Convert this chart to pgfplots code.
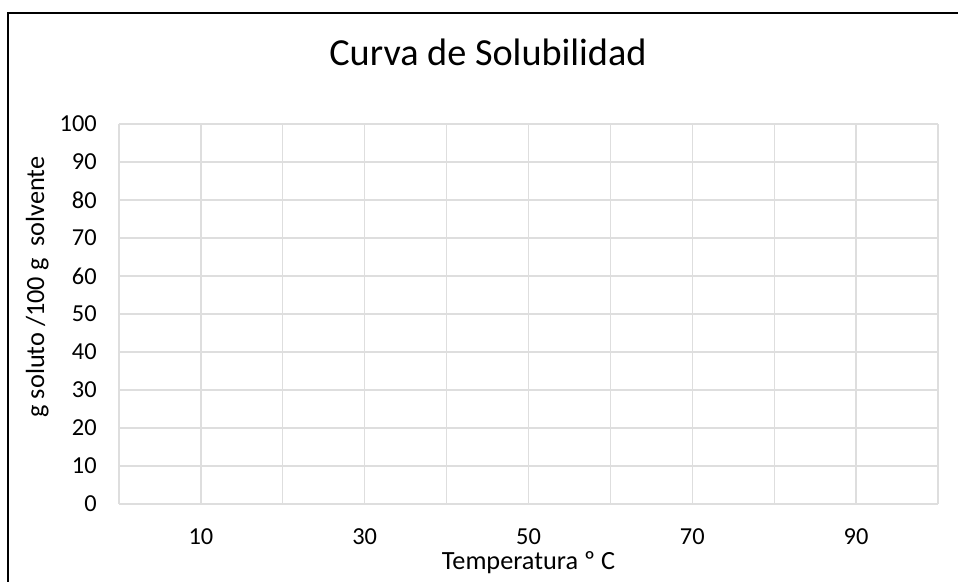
\documentclass[border=0pt]{standalone}
\usepackage{fontspec}
\setmainfont{Carlito}
\usepackage{pgfplots}
\pgfplotsset{compat=1.18}
\definecolor{gridgray}{RGB}{222,222,222}
\begin{document}
\begin{tikzpicture}
\path[use as bounding box] (0,0) rectangle (718.5pt,436.5pt);
\draw[line width=1.6pt, black] (5.9pt,-5pt) -- (5.9pt,426.9pt) -- (730pt,426.9pt);
\node[anchor=base, font=\fontsize{28.7pt}{34pt}\selectfont] at (366pt,387pt) {Curva de Solubilidad};
\begin{axis}[
  at={(89.25pt,58.5pt)}, anchor=south west,
  scale only axis, width=614.25pt, height=285pt,
  xmin=0, xmax=100, ymin=0, ymax=100,
  xtick={0,10,...,100},
  xticklabels={,10,,30,,50,,70,,90,},
  ytick={0,10,...,100},
  grid=major,
  major grid style={draw=gridgray, line width=1pt},
  axis line style={draw=none},
  major tick length=0pt,
  tick style={draw=none},
  /pgf/number format/assume math mode=true,
  tick label style={font=\fontsize{18.3pt}{21pt}\selectfont, inner sep=0pt},
  xticklabel style={anchor=base, yshift=-30.75pt},
  yticklabel style={anchor=east, xshift=-16.5pt},
  xlabel={Temperatura º C},
  ylabel={g soluto /100 g \ solvente},
  label style={font=\fontsize{19.7pt}{23pt}\selectfont, inner sep=0pt},
  xlabel style={at={(axis description cs:0.5,0)}, anchor=base, yshift=-49.5pt},
  ylabel style={at={(axis description cs:0,0.5)}, anchor=base, rotate=0, xshift=20.25pt, yshift=56.25pt},
]
\addplot[draw=none] coordinates {(0,0)};
\end{axis}
\end{tikzpicture}
\end{document}
